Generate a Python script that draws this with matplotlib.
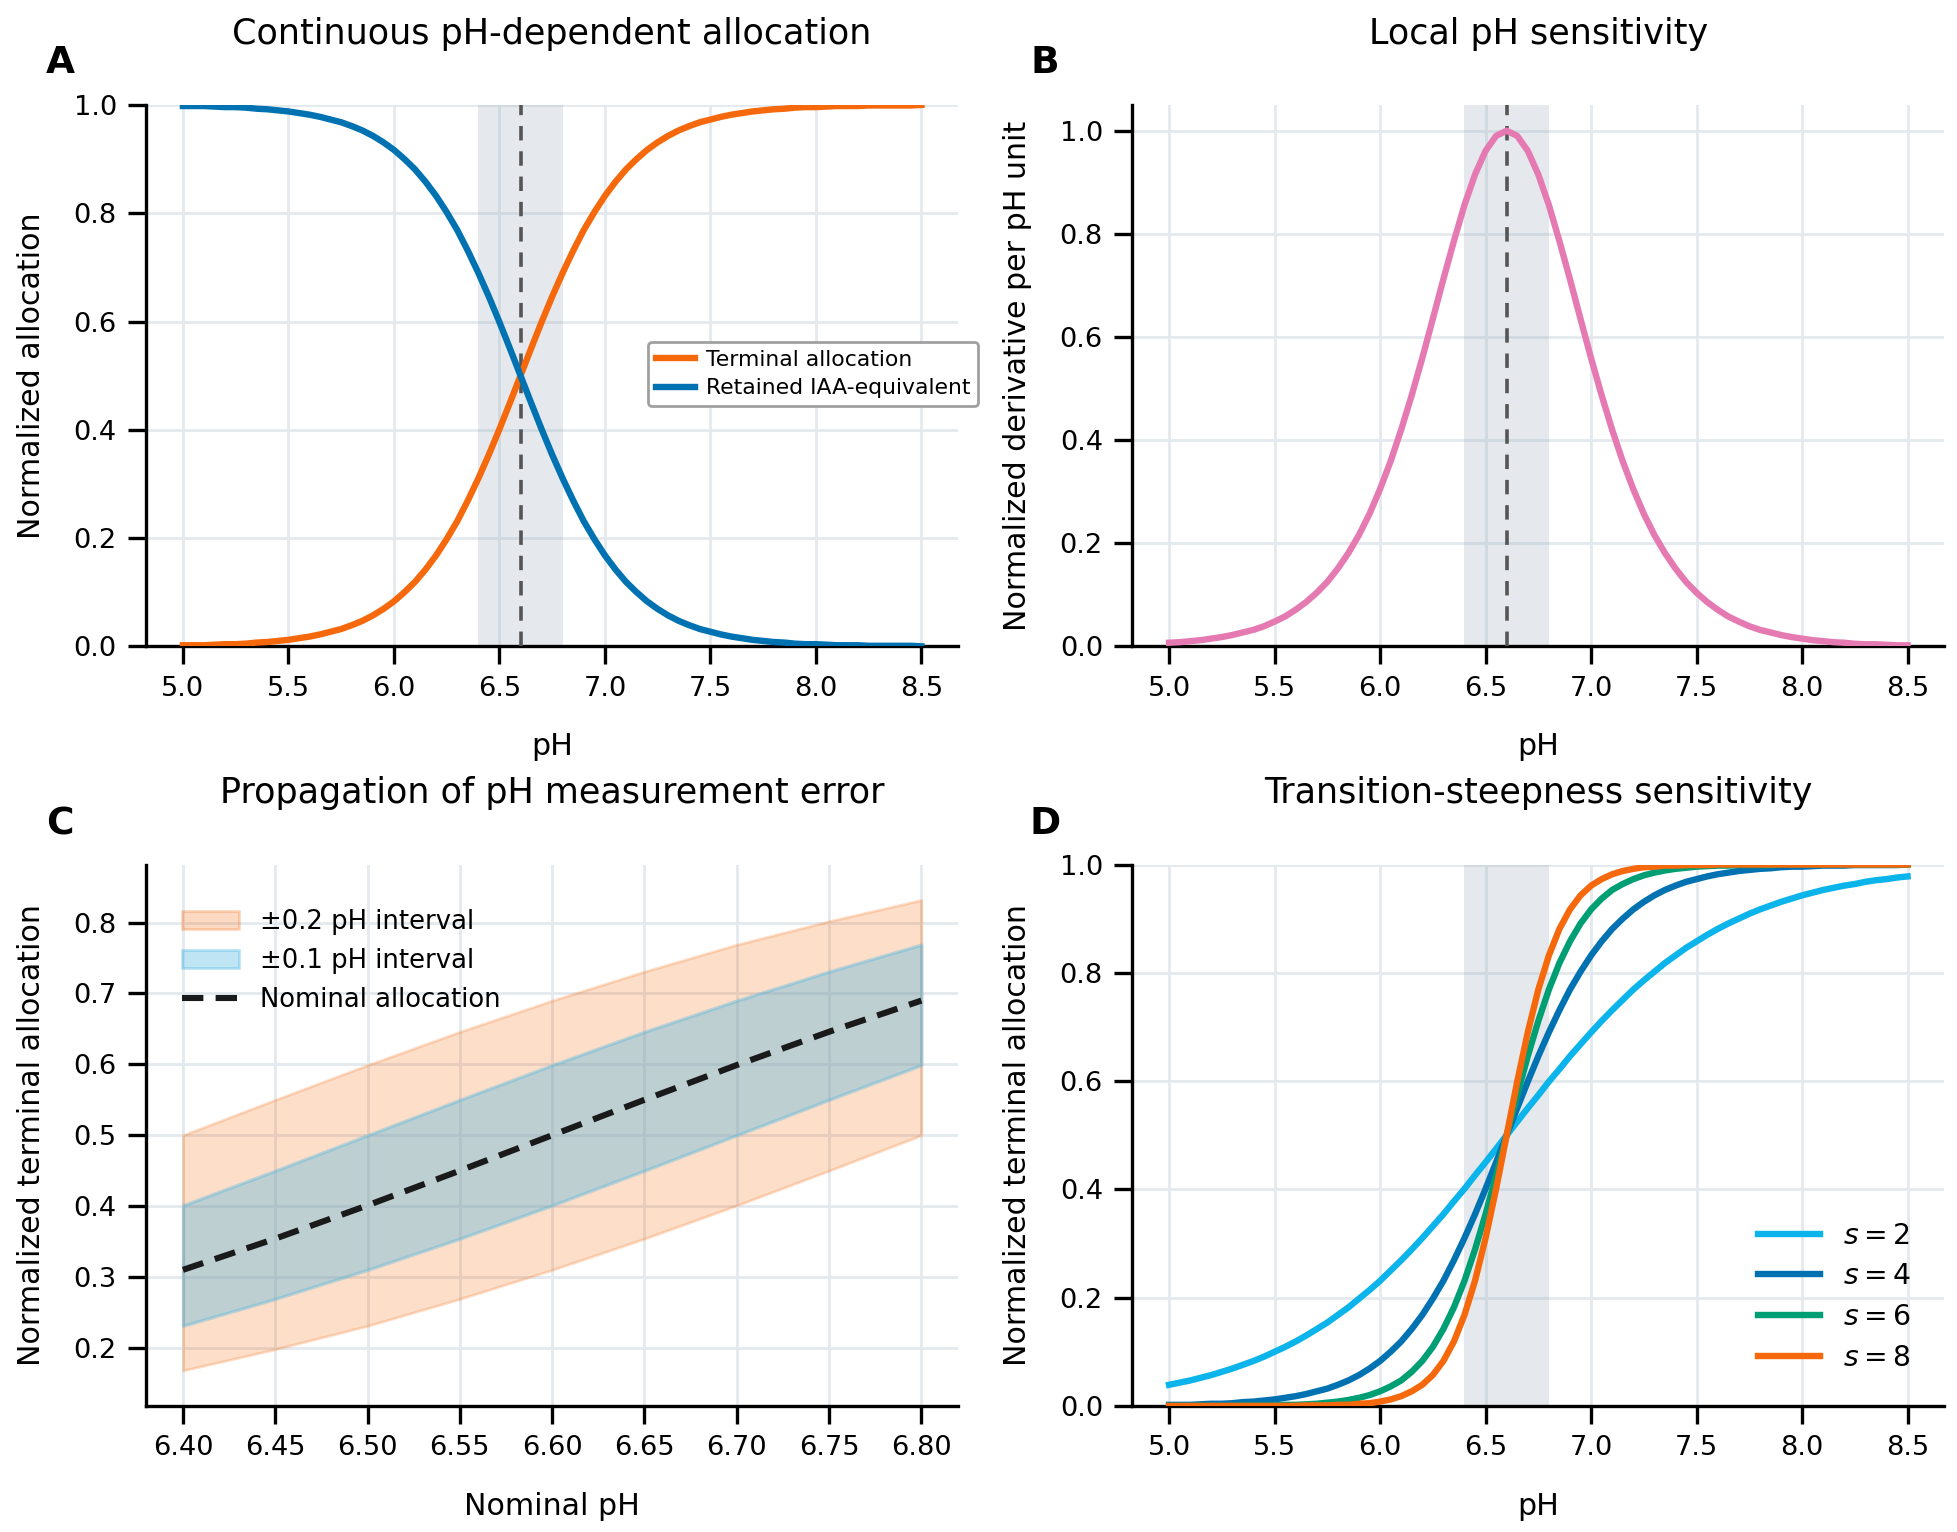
import numpy as np
import matplotlib
matplotlib.use("Agg")
import matplotlib.pyplot as plt
from matplotlib.patches import Patch
from matplotlib.lines import Line2D

plt.rcParams['font.family'] = ['DejaVu Sans']

# ---------------- data ----------------
ph = np.linspace(5.0, 8.5, 71)           # sampling grid, step 0.05

terminal = [0.002, 0.002, 0.002, 0.003, 0.004, 0.004, 0.005, 0.007, 0.008, 0.010,
            0.012, 0.015, 0.018, 0.022, 0.027, 0.032, 0.039, 0.047, 0.057, 0.069,
            0.083, 0.100, 0.119, 0.142, 0.168, 0.198, 0.231, 0.269, 0.310, 0.354,
            0.401, 0.450, 0.500, 0.550, 0.599, 0.646, 0.690, 0.731, 0.769, 0.802,
            0.832, 0.858, 0.881, 0.900, 0.917, 0.931, 0.943, 0.953, 0.961, 0.968,
            0.973, 0.978, 0.982, 0.985, 0.988, 0.990, 0.992, 0.993, 0.995, 0.996,
            0.996, 0.997, 0.998, 0.998, 0.998, 0.999, 0.999, 0.999, 0.999, 0.999,
            1.000]

retained = [0.998, 0.998, 0.998, 0.997, 0.996, 0.996, 0.995, 0.993, 0.992, 0.990,
            0.988, 0.985, 0.982, 0.978, 0.973, 0.968, 0.961, 0.953, 0.943, 0.931,
            0.917, 0.900, 0.881, 0.858, 0.832, 0.802, 0.769, 0.731, 0.690, 0.646,
            0.599, 0.550, 0.500, 0.450, 0.401, 0.354, 0.310, 0.269, 0.231, 0.198,
            0.168, 0.142, 0.119, 0.100, 0.083, 0.069, 0.057, 0.047, 0.039, 0.032,
            0.027, 0.022, 0.018, 0.015, 0.012, 0.010, 0.008, 0.007, 0.005, 0.004,
            0.004, 0.003, 0.002, 0.002, 0.002, 0.001, 0.001, 0.001, 0.001, 0.001,
            0.000]

sensitivity = [0.007, 0.008, 0.010, 0.012, 0.015, 0.018, 0.022, 0.027, 0.032, 0.039,
               0.048, 0.058, 0.071, 0.086, 0.104, 0.125, 0.151, 0.181, 0.216, 0.257,
               0.305, 0.359, 0.420, 0.487, 0.559, 0.635, 0.712, 0.786, 0.856, 0.915,
               0.961, 0.990, 1.000, 0.990, 0.961, 0.915, 0.856, 0.786, 0.712, 0.635,
               0.559, 0.487, 0.420, 0.359, 0.305, 0.257, 0.216, 0.181, 0.151, 0.125,
               0.104, 0.086, 0.071, 0.058, 0.048, 0.039, 0.032, 0.027, 0.022, 0.018,
               0.015, 0.012, 0.010, 0.008, 0.007, 0.005, 0.004, 0.004, 0.003, 0.002,
               0.002]

steep_s2 = [0.039, 0.043, 0.047, 0.052, 0.057, 0.063, 0.069, 0.076, 0.083, 0.091,
            0.100, 0.109, 0.119, 0.130, 0.142, 0.154, 0.168, 0.182, 0.198, 0.214,
            0.231, 0.250, 0.269, 0.289, 0.310, 0.332, 0.354, 0.378, 0.401, 0.426,
            0.450, 0.475, 0.500, 0.525, 0.550, 0.574, 0.599, 0.622, 0.646, 0.668,
            0.690, 0.711, 0.731, 0.750, 0.769, 0.786, 0.802, 0.818, 0.832, 0.846,
            0.858, 0.870, 0.881, 0.891, 0.900, 0.909, 0.917, 0.924, 0.931, 0.937,
            0.943, 0.948, 0.953, 0.957, 0.961, 0.964, 0.968, 0.971, 0.973, 0.976,
            0.978]
steep_s4 = terminal
steep_s6 = [0.000, 0.000, 0.000, 0.000, 0.000, 0.000, 0.000, 0.001, 0.001, 0.001,
            0.001, 0.002, 0.002, 0.003, 0.004, 0.006, 0.008, 0.011, 0.015, 0.020,
            0.027, 0.036, 0.047, 0.063, 0.083, 0.109, 0.142, 0.182, 0.231, 0.289,
            0.354, 0.426, 0.500, 0.574, 0.646, 0.711, 0.769, 0.818, 0.858, 0.891,
            0.917, 0.937, 0.953, 0.964, 0.973, 0.980, 0.985, 0.989, 0.992, 0.994,
            0.996, 0.997, 0.998, 0.998, 0.999, 0.999, 0.999, 0.999, 1.000, 1.000,
            1.000, 1.000, 1.000, 1.000, 1.000, 1.000, 1.000, 1.000, 1.000, 1.000,
            1.000]
steep_s8 = [0.000, 0.000, 0.000, 0.000, 0.000, 0.000, 0.000, 0.000, 0.000, 0.000,
            0.000, 0.000, 0.000, 0.001, 0.001, 0.001, 0.002, 0.002, 0.004, 0.005,
            0.008, 0.012, 0.018, 0.027, 0.039, 0.057, 0.083, 0.119, 0.168, 0.231,
            0.310, 0.401, 0.500, 0.599, 0.690, 0.769, 0.832, 0.881, 0.917, 0.943,
            0.961, 0.973, 0.982, 0.988, 0.992, 0.995, 0.996, 0.998, 0.998, 0.999,
            0.999, 0.999, 1.000, 1.000, 1.000, 1.000, 1.000, 1.000, 1.000, 1.000,
            1.000, 1.000, 1.000, 1.000, 1.000, 1.000, 1.000, 1.000, 1.000, 1.000,
            1.000]
steep_labels = ['$s = 2$', '$s = 4$', '$s = 6$', '$s = 8$']

nominal_ph = [6.40, 6.45, 6.50, 6.55, 6.60, 6.65, 6.70, 6.75, 6.80]
nominal_alloc = [0.310, 0.354, 0.401, 0.450, 0.500, 0.550, 0.599, 0.646, 0.690]
band01_low = [0.231, 0.269, 0.310, 0.354, 0.401, 0.450, 0.500, 0.550, 0.599]
band01_high = [0.401, 0.450, 0.500, 0.550, 0.599, 0.646, 0.690, 0.731, 0.769]
band02_low = [0.168, 0.198, 0.231, 0.269, 0.310, 0.354, 0.401, 0.450, 0.500]
band02_high = [0.500, 0.550, 0.599, 0.646, 0.690, 0.731, 0.769, 0.802, 0.832]

pka_center = 6.6
window_low, window_high = 6.4, 6.8

# ---------------- style ----------------
ORANGE = '#F5690C'
BLUE = '#0072B2'
PINK = '#E57AB2'
SKY = '#0BB4EA'
GREEN = '#009E73'
GRIDC = '#E4E9EE'
LW = 2.3

fig, axes = plt.subplots(2, 2, figsize=(9.785, 7.66), dpi=200)
fig.subplots_adjust(left=0.0746, right=0.9936, top=0.9315, bottom=0.0823,
                    wspace=0.214, hspace=0.403)

TITLE_FS = 12.6
LABEL_FS = 10.8
TICK_FS = 9.8

def style(ax):
    ax.grid(True, color=GRIDC, lw=1.0, zorder=0)
    ax.set_axisbelow(True)
    for s in ('top', 'right'):
        ax.spines[s].set_visible(False)
    for s in ('left', 'bottom'):
        ax.spines[s].set_linewidth(1.2)
        ax.spines[s].set_color('black')
    ax.tick_params(axis='both', which='major', length=6.5, width=1.2,
                   labelsize=TICK_FS, pad=4)

def window(ax):
    ax.axvspan(window_low, window_high, color='#9AAAB8', alpha=0.25, lw=0, zorder=1)
    ax.axvline(pka_center, color='#555555', lw=1.3, ls=(0, (4, 3)), zorder=3)

# ---- A ----
ax = axes[0, 0]
style(ax)
window(ax)
ax.plot(ph, terminal, color=ORANGE, lw=LW, label='Terminal allocation', zorder=4)
ax.plot(ph, retained, color=BLUE, lw=LW, label='Retained IAA-equivalent', zorder=4)
ax.set_ylim(0, 1.0)
ax.set_xticks([5.0, 5.5, 6.0, 6.5, 7.0, 7.5, 8.0, 8.5])
ax.set_yticks([0.0, 0.2, 0.4, 0.6, 0.8, 1.0])
ax.set_title('Continuous pH-dependent allocation', fontsize=TITLE_FS, pad=22)
ax.set_xlabel('pH', fontsize=LABEL_FS, labelpad=11)
ax.set_ylabel('Normalized allocation', fontsize=LABEL_FS, labelpad=10)
leg = ax.legend(loc='center right', bbox_to_anchor=(1.038, 0.503), fontsize=7.9,
                frameon=True, fancybox=True, edgecolor='#A0A0A0', framealpha=1.0,
                handlelength=1.8, handletextpad=0.5, borderpad=0.35,
                labelspacing=0.4)
leg.get_frame().set_linewidth(1.0)

# ---- B ----
ax = axes[0, 1]
style(ax)
window(ax)
ax.plot(ph, sensitivity, color=PINK, lw=LW, zorder=4)
ax.set_ylim(0, 1.05)
ax.set_xticks([5.0, 5.5, 6.0, 6.5, 7.0, 7.5, 8.0, 8.5])
ax.set_yticks([0.0, 0.2, 0.4, 0.6, 0.8, 1.0])
ax.set_title('Local pH sensitivity', fontsize=TITLE_FS, pad=22)
ax.set_xlabel('pH', fontsize=LABEL_FS, labelpad=11)
ax.set_ylabel('Normalized derivative per pH unit', fontsize=LABEL_FS, labelpad=10)

# ---- C ----
ax = axes[1, 0]
style(ax)
ax.fill_between(nominal_ph, band02_low, band02_high, color=ORANGE, alpha=0.22,
                lw=1.0, zorder=2)
ax.fill_between(nominal_ph, band01_low, band01_high, color='#3DB2E3', alpha=0.33,
                lw=1.2, zorder=3)
ax.plot(nominal_ph, nominal_alloc, color='#1a1a1a', lw=2.2, ls=(0, (3.5, 2.0)), zorder=4)
ax.set_ylim(min(band02_low) - 0.05, max(band02_high) + 0.05)
ax.set_xticks(nominal_ph)
ax.set_xticklabels([f'{v:.2f}' for v in nominal_ph])
ax.set_yticks([0.2, 0.3, 0.4, 0.5, 0.6, 0.7, 0.8])
ax.set_title('Propagation of pH measurement error', fontsize=TITLE_FS, pad=22)
ax.set_xlabel('Nominal pH', fontsize=LABEL_FS, labelpad=11)
ax.set_ylabel('Normalized terminal allocation', fontsize=LABEL_FS, labelpad=10)
handles = [Patch(facecolor=ORANGE, alpha=0.25, edgecolor=ORANGE, lw=1.0),
           Patch(facecolor='#3DB2E3', alpha=0.33, edgecolor='#3DB2E3', lw=1.0),
           Line2D([0], [0], color='#1a1a1a', lw=2.2, ls=(0, (3.5, 2.0)))]
ax.legend(handles, ['±0.2 pH interval', '±0.1 pH interval', 'Nominal allocation'],
          loc='upper left', bbox_to_anchor=(0.0, 0.985), fontsize=9.3,
          frameon=False, handlelength=2.2, borderaxespad=1.0)

# ---- D ----
ax = axes[1, 1]
style(ax)
ax.axvspan(window_low, window_high, color='#9AAAB8', alpha=0.25, lw=0, zorder=1)
for vals, col, lab in zip([steep_s2, steep_s4, steep_s6, steep_s8],
                          [SKY, BLUE, GREEN, ORANGE], steep_labels):
    ax.plot(ph, vals, color=col, lw=LW, label=lab, zorder=4)
ax.set_ylim(0, 1.0)
ax.set_xticks([5.0, 5.5, 6.0, 6.5, 7.0, 7.5, 8.0, 8.5])
ax.set_yticks([0.0, 0.2, 0.4, 0.6, 0.8, 1.0])
ax.set_title('Transition-steepness sensitivity', fontsize=TITLE_FS, pad=22)
ax.set_xlabel('pH', fontsize=LABEL_FS, labelpad=11)
ax.set_ylabel('Normalized terminal allocation', fontsize=LABEL_FS, labelpad=10)
ax.legend(loc='lower right', fontsize=10.2, frameon=False, handlelength=2.2,
          labelspacing=0.45, borderaxespad=0.8)

# panel letters
for lab, x, y in [('A', 0.0306, 0.959), ('B', 0.534, 0.959),
                  ('C', 0.0306, 0.462), ('D', 0.534, 0.462)]:
    fig.text(x, y, lab, fontsize=13.5, fontweight='bold', ha='center', va='center')

fig.savefig('out.png', dpi=200)
